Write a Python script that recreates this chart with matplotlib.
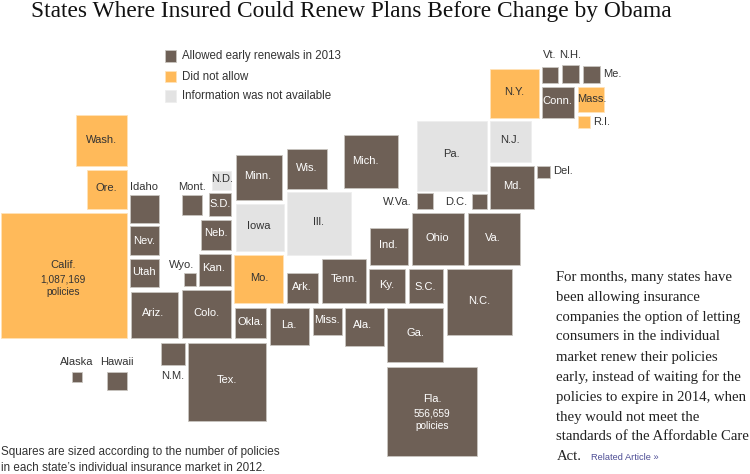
import matplotlib
matplotlib.use("Agg")
import matplotlib.pyplot as plt
from matplotlib.patches import Rectangle

BROWN, ORANGE, GRAY = "#6e6056", "#ffba5a", "#e3e3e3"
EDGE = {"a": "#c9c5c0", "n": "#ffe3b8", "u": "#eeeeee"}
FILL = {"a": BROWN, "n": ORANGE, "u": GRAY}

title = "States Where Insured Could Renew Plans Before Change by Obama"
legend_labels = ["Allowed early renewals in 2013", "Did not allow", "Information was not available"]
legend_groups = ["a", "n", "u"]

states = ["Wash.","Ore.","Calif.","Idaho","Nev.","Utah","Ariz.","Colo.","Wyo.","Kan.","Neb.","S.D.","N.D.",
          "Mont.","Minn.","Iowa","Mo.","Wis.","Ill.","Mich.","Ark.","Tenn.","Okla.","La.","Miss.","Ala.",
          "Tex.","N.M.","Alaska","Hawaii","Ind.","Ky.","S.C.","N.C.","Ga.","Fla.","Ohio","Va.","Md.","Del.",
          "D.C.","W.Va.","Pa.","N.J.","N.Y.","Conn.","Mass.","R.I.","Vt.","N.H.","Me."]
groups = ["n","n","n","a","a","a","a","a","a","a","a","a","u",
          "a","a","u","n","a","u","a","a","a","a","a","a","a",
          "a","a","a","a","a","a","a","a","a","a","a","a","a","a",
          "a","a","u","u","n","a","n","n","a","a","a"]
left = [76,87,1,130,130,130,131,182,184,199,201,209,212,
        182,236,236,234,287,287,344,287,322,235,270,313,345,
        188,161,72,107,370,369,409,447,387,387,412,468,490,537,
        472,417,417,490,490,542,578,578,542,562,583]
top = [115,170,213,195,226,259,292,290,273,254,220,193,171,
       195,155,204,255,149,192,135,273,259,308,308,308,308,
       343,343,372,372,228,269,269,269,308,367,213,213,166,166,
       194,193,121,121,69,87,87,116,67,65,66]
right = [127,127,127,159,159,159,178,231,196,231,231,231,231,
         202,282,284,283,327,351,398,318,366,266,309,342,384,
         266,185,82,127,408,405,443,512,443,477,464,520,534,550,
         487,433,487,531,539,574,604,590,558,579,600]
bottom = [166,209,338,223,255,287,338,338,286,286,250,216,190,
          215,200,251,303,189,255,188,303,303,338,345,335,346,
          421,365,382,390,265,303,303,335,362,456,265,265,209,178,
          209,209,191,162,118,118,112,128,83,83,83]
label_x = [101.7,106.7,63,143.7,143.7,144,153,206,182,214,215.7,220,221.7,
           192,258,259,259,306.7,318.7,365,302,344,250,289,326.7,363,
           226.7,173,76.7,116.7,388,386.7,425.7,478.7,415,432.3,437.3,493,512,562.7,
           455.7,397.7,451,510,514,557.7,591.7,602,549.7,570,612.5]
label_y = [140,187.7,264.7,186.7,241,271.7,313,313,264.7,268,233,204,179,
           186.7,175.7,226,278,168,222,161,286.7,279,321.7,325,320,325,
           379.7,376,361.7,361.7,245,285,286.7,300.7,333,399,237.7,237.7,186,171.3,
           202,202,154,140,91.7,100.7,98.7,122.3,55,55,73.7]
outside = {"Idaho","Mont.","Wyo.","N.M.","Alaska","Hawaii","Del.","D.C.","W.Va.","R.I.","Vt.","N.H.","Me."}

callouts = [("1,087,169", 63, 280, "n"), ("policies", 63, 292, "n"),
            ("556,659", 432.3, 413.7, "a"), ("policies", 432.3, 425.7, "a")]

body_lines = ["For months, many states have", "been allowing insurance",
              "companies the option of letting", "consumers in the individual",
              "market renew their policies", "early, instead of waiting for the",
              "policies to expire in 2014, when", "they would not meet the",
              "standards of the Affordable Care", "Act."]
caption_lines = ["Squares are sized according to the number of policies",
                 "in each state\u2019s individual insurance market in 2012."]

SANS = "Liberation Sans"
SERIF = "Liberation Serif"

fig = plt.figure(figsize=(7.5, 4.74), dpi=100)
ax = fig.add_axes([0, 0, 1, 1])
ax.set_xlim(0, 750)
ax.set_ylim(474, 0)
ax.axis("off")

def text_colour(name, grp):
    if name in outside:
        return "#333333"
    return "white" if grp == "a" else "#333333"

for n, g, l, t, r, b, lx, ly in zip(states, groups, left, top, right, bottom, label_x, label_y):
    ax.add_patch(Rectangle((l, t), r - l, b - t, facecolor=FILL[g], edgecolor=EDGE[g], linewidth=0.6))
    ax.text(lx, ly, n, ha="center", va="center", fontsize=8.0, family=SANS,
            color=text_colour(n, g))

for s, x, y, g in callouts:
    ax.text(x, y, s, ha="center", va="center", fontsize=7.3, family=SANS,
            color="white" if g == "a" else "#333333")

legend_y = [56, 76.5, 96]
for s, g, y in zip(legend_labels, legend_groups, legend_y):
    ax.add_patch(Rectangle((165, y - 5.8), 11, 11.6, facecolor=FILL[g], edgecolor=EDGE[g], linewidth=0.6))
    ax.text(182, y, s, ha="left", va="center", fontsize=8.3, family=SANS, color="#333333")

ax.text(351, 11, title, ha="center", va="center", fontsize=16.8, family=SERIF, color="#111111")

for i, s in enumerate(body_lines):
    ax.text(556.5, 277 + i * 20, s, ha="left", va="center", fontsize=10.6, family=SERIF, color="#222222")
ax.text(591, 457, "Related Article \u00bb", ha="left", va="center", fontsize=6.7, family=SANS, color="#4f4f96")

for i, s in enumerate(caption_lines):
    ax.text(1, 452 + i * 16, s, ha="left", va="center", fontsize=8.4, family=SANS, color="#333333")

fig.savefig("out.png", dpi=100)
